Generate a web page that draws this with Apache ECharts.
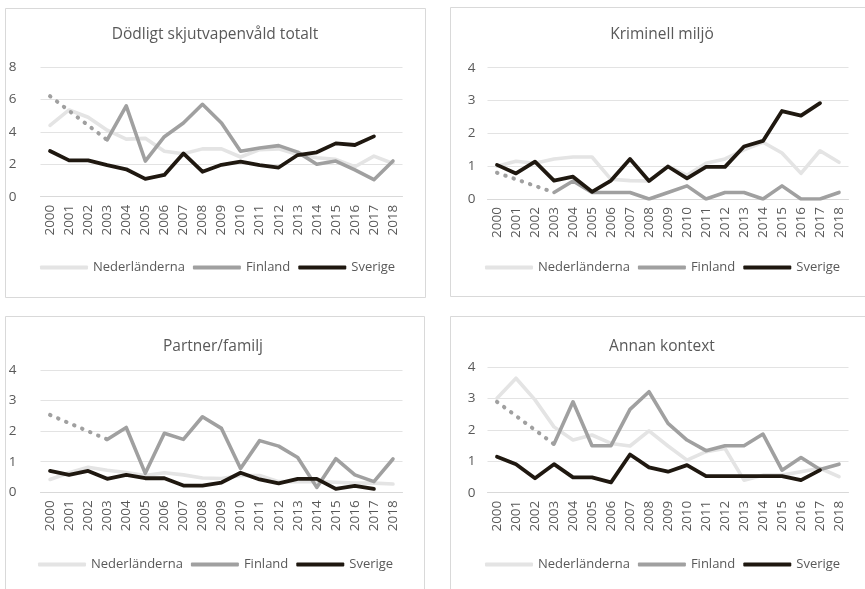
<!DOCTYPE html>
<html>
<head>
<meta charset="utf-8">
<script src="https://cdn.jsdelivr.net/npm/echarts@6/dist/echarts.min.js"></script>
<style>
html,body{margin:0;padding:0;background:#fff;}
#c{width:865px;height:589px;}
</style>
</head>
<body>
<div id="c"></div>
<script>
const years = ['2000','2001','2002','2003','2004','2005','2006','2007','2008','2009','2010','2011','2012','2013','2014','2015','2016','2017','2018'];
const seriesNames = ['Nederländerna','Finland','Sverige'];
const panelTitles = ['Dödligt skjutvapenvåld totalt','Kriminell miljö','Partner/familj','Annan kontext'];
const yMax = [8,4,4,4];
const yInterval = [2,1,1,1];

// Panel 1: Dödligt skjutvapenvåld totalt
const p1Ned = [4.4,5.35,4.9,4.1,3.55,3.6,2.8,2.65,2.95,2.95,2.45,2.9,2.95,2.6,2.4,2.3,1.85,2.5,2.05];
const p1Fin = [null,null,null,3.5,5.6,2.2,3.7,4.55,5.7,4.55,2.8,3.0,3.15,2.75,2.0,2.2,1.65,1.05,2.2];
const p1FinDotted = [6.2,null,null,3.5];
const p1Swe = [2.82,2.24,2.24,1.95,1.69,1.1,1.34,2.67,1.54,1.97,2.16,1.95,1.8,2.57,2.74,3.29,3.19,3.72,null];

// Panel 2: Kriminell miljö
const p2Ned = [1.0,1.15,1.09,1.22,1.28,1.28,0.6,0.56,0.55,1.0,0.72,1.09,1.22,1.5,1.73,1.4,0.78,1.47,1.12];
const p2Fin = [null,null,null,0.2,0.55,0.2,0.2,0.2,0,0.2,0.4,0,0.2,0.2,0,0.4,0,0,0.2];
const p2FinDotted = [0.8,null,null,0.2];
const p2Swe = [1.04,0.78,1.14,0.56,0.68,0.22,0.56,1.22,0.55,0.99,0.63,0.98,0.98,1.6,1.77,2.68,2.54,2.92,null];

// Panel 3: Partner/familj
const p3Ned = [0.42,0.64,0.82,0.72,0.65,0.55,0.64,0.57,0.47,0.45,0.55,0.55,0.35,0.35,0.35,0.33,0.3,0.3,0.27];
const p3Fin = [null,null,null,1.73,2.12,0.62,1.93,1.73,2.47,2.09,0.78,1.69,1.51,1.14,0.16,1.1,0.57,0.35,1.09];
const p3FinDotted = [2.53,null,null,1.73];
const p3Swe = [0.7,0.57,0.7,0.44,0.57,0.46,0.46,0.22,0.22,0.32,0.64,0.42,0.29,0.44,0.44,0.11,0.21,0.11,null];

// Panel 4: Annan kontext
const p4Ned = [3.01,3.65,2.96,2.1,1.68,1.84,1.57,1.49,1.97,1.49,1.04,1.31,1.41,0.4,0.56,0.56,0.67,0.78,0.51];
const p4Fin = [null,null,null,1.55,2.9,1.5,1.5,2.66,3.22,2.21,1.68,1.34,1.5,1.5,1.87,0.72,1.12,0.74,0.91];
const p4FinDotted = [2.9,null,null,1.55];
const p4Swe = [1.15,0.91,0.46,0.91,0.49,0.49,0.33,1.22,0.81,0.67,0.88,0.53,0.53,0.53,0.53,0.53,0.4,0.72,null];

const panels = [
  {ned:p1Ned, fin:p1Fin, dot:p1FinDotted, swe:p1Swe},
  {ned:p2Ned, fin:p2Fin, dot:p2FinDotted, swe:p2Swe},
  {ned:p3Ned, fin:p3Fin, dot:p3FinDotted, swe:p3Swe},
  {ned:p4Ned, fin:p4Fin, dot:p4FinDotted, swe:p4Swe}
];

const FONT = 'Open Sans';
const TXT = '#595959';
const colNed = '#e4e4e4', colFin = '#a0a0a0', colSwe = '#1f1810';

// layout (pixels)
const grids = [
  {left:40.5, top:67, width:362, height:129.7},
  {left:487.5, top:67.7, width:361, height:131.3},
  {left:40.5, top:370, width:362, height:122.3},
  {left:487.5, top:367.3, width:361, height:125.4}
];
const yLabelMargin = [24, 12, 24, 12];
const titlePos = [[215,35],[662,35],[213,347],[662,347]];
const legendPos = [[40,261],[485,261],[38,558],[485,558]];
const boxes = [[5.5,8.5,420,289],[450.5,7.5,420,289],[5.5,316.5,419,280],[450.5,316.5,420,280]];

const option = {
  backgroundColor:'#fff',
  animation:false,
  title: panelTitles.map((t,i)=>({
    text:t, left:titlePos[i][0], top:titlePos[i][1], textAlign:'center', textVerticalAlign:'middle', padding:0,
    textStyle:{fontFamily:FONT, fontSize:15.5, fontWeight:'normal', color:TXT}
  })),
  legend: legendPos.map(p=>({
    data:seriesNames, left:p[0], top:p[1], padding:0, itemGap:8, itemWidth:48, itemHeight:4, icon:'roundRect',
    textStyle:{fontFamily:FONT, fontSize:13, color:TXT}, selectedMode:false
  })),
  grid: grids.map(g=>Object.assign({containLabel:false}, g)),
  xAxis: grids.map((g,i)=>({
    type:'category', gridIndex:i, data:years, boundaryGap:true,
    axisLine:{show:true, lineStyle:{color:'#d9d9d9', width:1}},
    axisTick:{show:false},
    axisLabel:{rotate:90, margin:8, fontFamily:FONT, fontSize:13.5, color:TXT, interval:0}
  })),
  yAxis: grids.map((g,i)=>({
    type:'value', gridIndex:i, min:0, max:yMax[i], interval:yInterval[i],
    axisLine:{show:false}, axisTick:{show:false},
    splitLine:{lineStyle:{color:'#e3e3e3', width:1}},
    axisLabel:{margin:yLabelMargin[i], fontFamily:FONT, fontSize:13.5, color:TXT}
  })),
  series: [],
  graphic: boxes.map(b=>({
    type:'rect', shape:{x:b[0], y:b[1], width:b[2], height:b[3]}, silent:true, z:-10,
    style:{fill:'none', stroke:'#d9d9d9', lineWidth:1}
  }))
};

panels.forEach((p,i)=>{
  const base = {type:'line', xAxisIndex:i, yAxisIndex:i, symbol:'none', animation:false};
  option.series.push(Object.assign({}, base, {name:'Nederländerna', data:p.ned, color:colNed, z:2,
    lineStyle:{color:colNed, width:3.6, cap:'round', join:'round'}}));
  option.series.push(Object.assign({}, base, {name:'Finland', data:p.fin, color:colFin, z:3,
    lineStyle:{color:colFin, width:3.6, cap:'round', join:'round'}}));
  option.series.push(Object.assign({}, base, {name:'Finland (uppskattning)', data:p.dot, color:colFin, z:3, connectNulls:true,
    lineStyle:{color:colFin, width:4, cap:'round', type:[0.5,8.2]}}));
  option.series.push(Object.assign({}, base, {name:'Sverige', data:p.swe, color:colSwe, z:4,
    lineStyle:{color:colSwe, width:3.8, cap:'round', join:'round'}}));
});

const chart = echarts.init(document.getElementById('c'), null, {renderer:'canvas'});
chart.setOption(option);
</script>
</body>
</html>
